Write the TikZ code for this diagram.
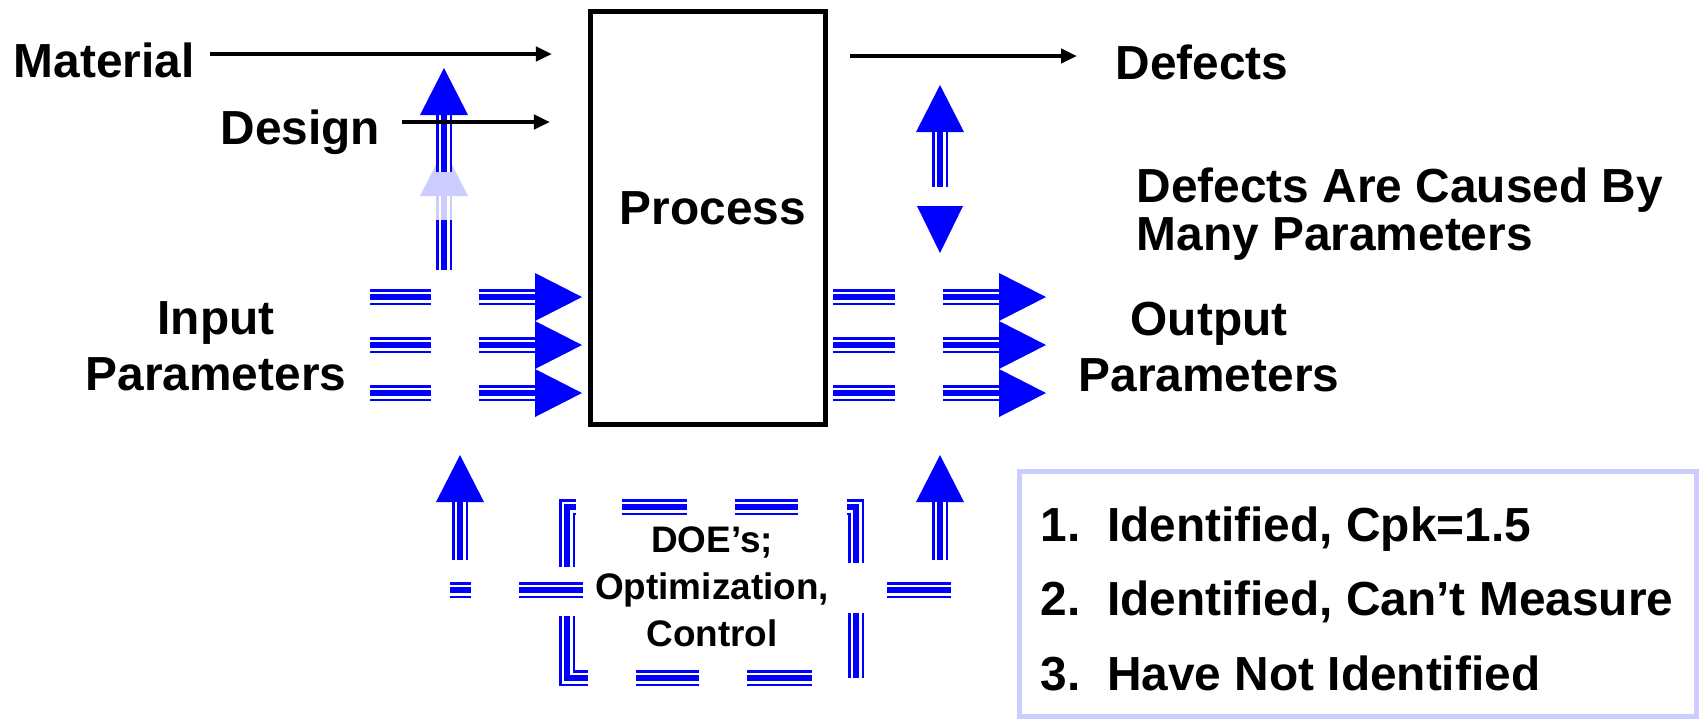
\documentclass[tikz,border=0pt]{standalone}
\usepackage{fontspec}
\setmainfont{Liberation Sans}
\usetikzlibrary{arrows.meta, positioning}

\definecolor{boxlav}{RGB}{204,204,255}
\definecolor{fadeblue}{RGB}{204,204,255}
\tikzset{
  txt/.style={font=\fontsize{13.6}{15.8}\selectfont\bfseries, inner sep=0pt},
  small/.style={font=\fontsize{10.5}{13.4}\selectfont\bfseries, inner sep=0pt, align=center},
  feed/.style={-{Triangle[length=0.16cm, width=0.14cm]}, line width=0.045cm},
  tri/.style={draw=blue, line width=0.16cm,
    postaction={draw=white, line width=0.11cm},
    postaction={draw=blue, line width=0.06cm}},
  ftri/.style={draw=fadeblue, line width=0.16cm,
    postaction={draw=white, line width=0.11cm},
    postaction={draw=fadeblue, line width=0.06cm}},
  pics/rhead/.style={code={\fill[blue] (0,-24) -- (47,0) -- (0,24) -- cycle;}},
  pics/uhead/.style={code={\fill[#1] (-24,0) -- (0,-47) -- (24,0) -- cycle;}},
  pics/uhead/.default=blue,
  pics/dhead/.style={code={\fill[blue] (-23,0) -- (0,47) -- (23,0) -- cycle;}},
}

\begin{document}
\begin{tikzpicture}[x=0.01cm, y=-0.01cm]
\useasboundingbox (0,0) rectangle (1703,720);

% process block and labels
\node[draw, line width=0.045cm, minimum width=2.35cm, minimum height=4.13cm, inner sep=0pt] (process) at (708,218) {};
\node[txt] (proclabel) at (713,208) {Process};
\node[txt, anchor=base west] (material) at (13,77) {Material};
\node[txt, anchor=base west] (design) at (220,144) {Design};
\node[txt, anchor=base west] (defects) at (1115,79) {Defects};
\node[txt, anchor=west, align=left, font=\fontsize{13.6}{13.8}\selectfont\bfseries] (cause) at (1136,214) {Defects Are Caused By\\Many Parameters};
\node[txt, align=center] (inpar) at (216,346) {Input\\Parameters};
\node[txt, align=center] (outpar) at (1209,347) {Output\\Parameters};
\node[small] (doe) at (712,587) {DOE’s;\\Optimization,\\Control};

% vertical arrow above the inputs (faded copy behind)
\pic at (444,196) {uhead=fadeblue};
\draw[ftri] (444,196) -- (444,220);
\draw[tri] (444,220) -- (444,270);
\draw[tri] (444,115) -- (444,172);
\pic at (444,115) {uhead};

% black feeds
\coordinate (mat0) at (210,54);
\coordinate (mat1) at (552,54);
\coordinate (des0) at (402,122);
\coordinate (des1) at (550,122);
\coordinate (def0) at (850,56);
\coordinate (def1) at (1077,56);
\draw[feed] (mat0) -- (mat1);
\draw[feed] (des0) -- (des1);
\draw[feed] (def0) -- (def1);

% input and output parameter arrows
\foreach \y in {297,345,393} {
  \draw[tri] (370,\y) -- (431,\y);
  \draw[tri] (479,\y) -- (535,\y);
  \pic at (535,\y) {rhead};
  \draw[tri] (833,\y) -- (895,\y);
  \draw[tri] (943,\y) -- (999,\y);
  \pic at (999,\y) {rhead};
}

% up/down arrow above outputs
\pic at (940,132) {uhead};
\draw[tri] (940,132) -- (940,187);
\pic at (940,206) {dhead};

% feedback loop
\pic at (460,502) {uhead};
\draw[tri] (460,502) -- (460,560);
\pic at (940,502) {uhead};
\draw[tri] (940,502) -- (940,560);
\draw[tri] (450,590) -- (471,590);
\draw[tri] (519,590) -- (583,590);
\draw[tri] (887,590) -- (951,590);
\draw[tri] (567,567) -- (567,507) -- (576,507);
\draw[tri] (622,507) -- (687,507);
\draw[tri] (735,507) -- (798,507);
\draw[tri] (847,507) -- (856,507) -- (856,563);
\draw[tri] (856,613) -- (856,678);
\draw[tri] (567,616) -- (567,678) -- (588,678);
\draw[tri] (636,678) -- (699,678);
\draw[tri] (747,678) -- (812,678);

% list of parameter classes
\node[draw=boxlav, line width=0.05cm, minimum width=6.76cm, minimum height=2.44cm, inner sep=0pt] (listbox) at (1358,594) {};
\node[txt, anchor=base west] (item1) at (1040,541) {1.\ \ Identified, Cpk=1.5};
\node[txt, anchor=base west] (item2) at (1040,615) {2.\ \ Identified, Can’t Measure};
\node[txt, anchor=base west] (item3) at (1040,690) {3.\ \ Have Not Identified};
\end{tikzpicture}
\end{document}
